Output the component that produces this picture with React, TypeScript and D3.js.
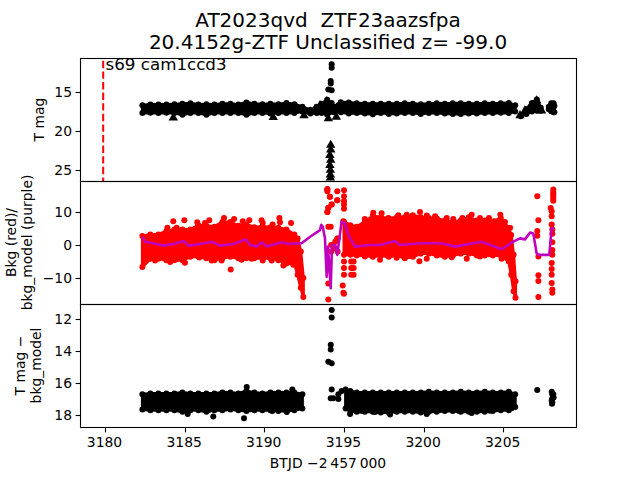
import React from "react";
import * as d3 from "d3";

const W = 640, H = 480;
const X0 = 80, X1 = 576;
const panels = [[58, 181], [181, 304], [304, 427]];

const xTicks = [3180, 3185, 3190, 3195, 3200, 3205];
const topTicks = [15, 20, 25];
const midTicks = [10, 0, -10];
const botTicks = [12, 14, 16, 18];

// Background flux (red) envelopes
const bkgDaysA = [3182.4,3182.9,3183.4,3183.9,3184.4,3184.9,3185.4,3185.9,3186.4,3186.9,3187.4,3187.9,3188.4,3188.9,3189.4,3189.9,3190.4,3190.9,3191.4,3191.9,3192.1,3192.3,3192.46];
const bkgHiA = [2.7,3.2,3.2,4.2,4.7,4.7,4.7,6,5.8,5.5,7,7,5.8,6.2,5.4,5.6,5.4,5.2,4.7,3.2,2,-2,-10];
const bkgLoA = [-6.7,-4.2,-4.2,-4.6,-4.6,-4.6,-3.6,-3.6,-4,-4.6,-4,-3.6,-4,-4,-4,-4,-4,-4.6,-5.6,-5.6,-9,-13,-15.8];
const bkgDaysB = [3195,3195.4,3195.8,3196.3,3196.8,3197.3,3197.8,3198.3,3198.8,3199.3,3199.8,3200.3,3200.8,3201.3,3201.8,3202.3,3202.8,3203.3,3203.8,3204.3,3204.8,3205.3,3205.45,3205.6,3205.72];
const bkgHiB = [7,6,5.5,7,8.8,8.4,8,8.4,8.4,9,8.4,8.2,8,7.4,7,7.4,8.4,7.4,7.4,7,8.2,5,3,-3,-11];
const bkgLoB = [-3,-3,-3.2,-3.2,-3.6,-3.2,-3.6,-3.2,-4,-3.6,-2.6,-2.6,-3.2,-3.6,-3.2,-2.6,-2.6,-3.2,-3.2,-3.2,-3.2,-5,-9,-14,-16];

// Red individual points
const redDays = [3184.33,3185.02,3186.58,3187.92,3189.85,3190.96,3191.69,
  3183.96,3184.54,3185.83,3186.31,3187.5,3188.13,3188.67,3189.08,3189.92,3190.54,3191,
  3183.19,3184.13,3185.06,3185.96,3186.73,3187.35,3188.6,3189.23,3189.92,3190.48,3191.21,3191.83,
  3196.3,3196.83,3197.35,3197.77,3198.4,3198.92,3199.75,3200.17,3200.69,3201.42,3201.83,3202.4,3202.98,3203.5,3204.06,3204.38,3204.77,3205.06,3205.38,
  3196.3,3197.25,3198.29,3199.71,3200.17,3202.67,3201.73,3203.5,3204.85,
  3193.96,3194.12,3194.58,3194.23,3194.02,3193.96,3194.02,3194.17,3194.02,3194.02,
  3193.96,3193.96,3194.12,3194.58,3195,3195,3194.58,3195,3195,3195,3194.23,3194.02,3193.96,3194.96,3194.92,3195,3194.96,3194.58,
  3194.2,3194.45,3194.6,3194.45,3194.6,3194.2,
  3195,3195,3195,3195.45,3195.45,3195.45,3195.6,3195.6,3195.6,
  3207.08,3207.15,3207.08,3207.08,3207.15,3207.15,3207.15,3207.15,
  3208.08,3208.08,3208.08,3208.08,3208.08,3208.08,3207.92,3207.98,3207.98,3207.98,3208.02,3208.02,3208.02,3208.02,3208.02,3207.98,3207.98,3207.98,3207.98,3208.02,3208.02,3208,3207.98];
const redVals = [7.2,7.5,7.5,-7.4,7.5,8.2,6.7,
  5.2,5.2,6.9,6.7,8.2,7.9,7.2,7.5,6.7,6.2,6.9,
  -4.7,-5.2,-5.4,-3.8,-4.7,-4.7,-4.5,-4.2,-4.7,-4.7,-6.2,-6,
  7.9,9.8,9.6,8.2,9,9.2,10,8.9,8.7,8.2,7.9,8.2,9.2,8.2,8.2,7.2,9.2,7,5.2,
  -3.5,-4.5,-3.9,-4.9,-4.2,-4.2,-3.7,-3.5,-4.2,
  16.8,14.6,13.6,12.3,11.3,10,5.5,5.5,-11.7,-16.5,
  17,16.3,14.6,16.3,16.6,14.8,13.6,13.3,12.3,11,12.3,11.3,10,7.2,-12.3,-14.8,-14.5,2,
  0,1,2,-1,-2,-2,
  -5,-7,-9,-5,-7,-9,-5,-7,-9,
  14.8,7.5,4.2,2.8,-3.5,-9.2,-10.9,-15.8,
  16.8,16,15.4,14.8,14,13.4,11.2,10.2,8.7,6.2,4.7,3.4,0.8,-1.5,-3,-5.5,-7.3,-9,-11.5,-13.5,-14.5];

// Background model (purple)
const modelDays = [3182.4,3182.56,3183.08,3183.71,3184.33,3185,3185.27,3186,3186.73,3187.25,3188.08,3188.85,3189.13,3189.54,3189.85,3190.17,3191.1,3191.52,3192.35,3192.88,3193.5,3193.58,3193.67,3193.81,3193.92,3194,3194.17,3194.25,3194.44,3194.58,3194.85,3195.06,3195.27,3195.69,3196.63,3197.25,3198.19,3198.5,3199.75,3201.1,3201.94,3203.6,3204.85,3205.58,3206,3206.31,3206.63,3206.83,3207.04,3207.15,3207.83,3207.98,3208.13];
const modelVals = [2.5,1,0.5,-0.2,0.3,1.2,-0.2,0.3,1,-0.2,0.3,1.7,0,-0.5,0.8,-0.5,0.8,0.3,0.5,2.5,4.5,6.1,5.6,2,-9.6,-0.5,-13.1,0,0,-3,7.1,6.6,3,-0.5,0,0,1.2,0,0.5,0.5,-0.5,1,-1.3,1,2,1.7,3.8,3.5,-2.5,-3,-3,5,5];

// Magnitude (black) envelopes, top panel
const magDays = [3182.4,3182.9,3183.4,3183.9,3184.4,3184.9,3185.4,3185.9,3186.4,3186.9,3187.4,3187.9,3188.4,3188.9,3189.4,3189.9,3190.4,3190.9,3191.4,3191.9,3192.4,3192.9,3193.3,3193.6,3193.95,3194.4,3194.8,3195.3,3195.8,3196.3,3196.8,3197.3,3197.8,3198.3,3198.8,3199.3,3199.8,3200.3,3200.8,3201.3,3201.8,3202.3,3202.8,3203.3,3203.8,3204.3,3204.8,3205.3,3205.7];
const magHi = [16.7,16.6,16.6,16.6,16.55,16.5,16.45,16.6,16.55,16.6,16.5,16.5,16.6,16.35,16.5,16.55,16.5,16.55,16.4,16.55,16.9,17.3,16.9,16.5,16,16.9,16.3,16.35,16.45,16.5,16.5,16.5,16.5,16.5,16.45,16.5,16.55,16.5,16.45,16.5,16.45,16.45,16.5,16.5,16.45,16.5,16.45,16.4,16.7];
const magLo = [17.7,17.65,17.7,17.65,17.7,17.9,17.7,17.7,17.9,17.7,17.7,17.7,17.7,17.9,17.7,17.7,17.75,17.7,17.7,17.7,17.5,17.75,17.7,17.7,17.9,17.6,17.6,17.75,17.7,17.75,17.85,17.7,17.8,17.75,17.7,17.7,17.8,17.7,17.7,17.75,17.8,17.8,17.75,17.75,17.7,17.7,17.65,17.7,17.5];
const rampDays = [3206.05,3206.4,3206.75,3207.05,3207.3];
const rampHi = [18,17.2,16.4,15.95,17];
const rampLo = [18.1,17.8,17.5,17.4,17.4];
const blobDays = [3207.8,3207.95,3208.1,3208.15];
const blobHi = [16.9,16.45,16.45,16.8];
const blobLo = [17.2,17.45,17.6,17.6];

// Magnitude (black) envelopes, bottom panel
const subDaysA = [3182.4,3182.9,3183.4,3183.9,3184.4,3184.9,3185.4,3185.9,3186.4,3186.9,3187.4,3187.9,3188.4,3188.9,3189.4,3189.9,3190.4,3190.9,3191.4,3191.9,3192.4];
const subHiA = [16.7,16.65,16.65,16.65,16.65,16.6,16.65,16.65,16.65,16.65,16.6,16.6,16.65,16.5,16.6,16.65,16.6,16.6,16.6,16.6,16.7];
const subLoA = [17.65,17.7,17.7,17.7,17.7,17.8,17.7,17.7,17.8,17.7,17.7,17.65,17.7,17.75,17.7,17.7,17.7,17.75,17.75,17.7,17.6];
const subDaysB = [3195.1,3195.4,3195.8,3196.3,3196.8,3197.3,3197.8,3198.3,3198.8,3199.3,3199.8,3200.3,3200.8,3201.3,3201.8,3202.3,3202.8,3203.3,3203.8,3204.3,3204.8,3205.3,3205.7];
const subHiB = [16.4,16.5,16.6,16.6,16.6,16.6,16.6,16.6,16.6,16.6,16.6,16.55,16.6,16.6,16.6,16.55,16.6,16.6,16.55,16.6,16.6,16.55,16.7];
const subLoB = [17.6,17.75,17.8,17.8,17.8,17.85,17.85,17.8,17.8,17.8,17.85,17.8,17.8,17.75,17.75,17.8,17.8,17.8,17.8,17.75,17.7,17.7,17.5];
const subEdgeDays = [3185.23,3186.83,3188.75,3190.52,3191.42,3188.92,3191.77,3195.38,3196.1,3196.94,3197.88,3200.17,3202.15,3202.98,3204.13,3205.48];
const subEdgeMags = [17.93,18.1,18.2,17.75,17.82,16.25,16.4,17.93,17.73,17.82,17.97,17.93,17.73,17.88,17.73,17.58];

// Points shared by the magnitude panels
const outDays = [3194.23,3194.23,3194.17,3194.17,3194.02,3194.23,3194.23,3194.17,3194.33,3194.65,3194.65,3194.85,3207.08,3207.98,3208.02,3208.06,3208,3207.98,3208.02,3208.08,3208.1,3208];
const outMags = [11.44,11.9,13.6,13.9,14.67,14.77,16.4,16.95,16.95,16.7,17,16.5,16.44,16.55,16.7,16.85,17,17.1,17.2,16.7,16.9,17.3];

// Upper limits (triangles), top panel
const limDays = [3184.33,3190.58,3192.5,3192.88,3193.19,3193.5,3193.92,3194.02,3194.33,3194.02,3194.52,3206,3206.31,3206.63,3207.04,3207.15,3207.35,
  3194.17,3194.17,3194.12,3194.17,3194.12,3194.15,3194.15,3194.15];
const limMags = [18.3,18.25,18,17.5,17.2,16.7,16.2,16.7,17.1,18.4,18.2,18,17.4,16.9,16.1,17,17.4,
  21.8,22.4,23.1,23.7,24.4,25,25.6,26];

const labelFont = "'DejaVu Sans', sans-serif";

function Dots({ days, vals, x, y, fill, r = 3 }: any) {
  return <g fill={fill}>{days.map((d: number, i: number) => <circle key={i} cx={x(d)} cy={y(vals[i])} r={r} />)}</g>;
}

function Band({ days, hi, lo, x, y, fill }: any) {
  const idx = days.map((_: number, i: number) => i);
  const area = d3.area<number>().x(i => x(days[i])).y0(i => y(lo[i])).y1(i => y(hi[i]));
  return (
    <g fill={fill}>
      <path d={area(idx) || ""} stroke={fill} strokeWidth={3} strokeLinejoin="round" />
      {idx.map((i: number) => <circle key={"h" + i} cx={x(days[i])} cy={y(hi[i])} r={3} />)}
      {idx.map((i: number) => <circle key={"l" + i} cx={x(days[i])} cy={y(lo[i])} r={3} />)}
    </g>
  );
}

function YAxis({ y, ticks, x0 }: any) {
  return (
    <g>
      {ticks.map((t: number) => (
        <g key={t}>
          <line x1={x0 - 4.4} x2={x0 + 0.5} y1={Math.round(y(t)) + 0.5} y2={Math.round(y(t)) + 0.5} stroke="#000" strokeWidth={1.1} />
          <text x={x0 - 8} y={y(t) + 5} textAnchor="end" fontSize={13.9} fontFamily={labelFont}>
            {String(t).replace("-", "\u2212")}
          </text>
        </g>
      ))}
    </g>
  );
}

export default function App() {
  const x = d3.scaleLinear().domain([3178.5, 3209.5]).range([X0, X1]);
  const xAxis = d3.scaleLinear().domain([3178.43, 3209.57]).range([X0, X1]);
  const yT = d3.scaleLinear().domain([10.64, 26.4]).range([panels[0][0], panels[0][1]]);
  const yM = d3.scaleLinear().domain([19.4, -17.9]).range([panels[1][0], panels[1][1]]);
  const yB = d3.scaleLinear().domain([11.06, 18.75]).range([panels[2][0], panels[2][1]]);
  const model = d3.line<number>().x(i => x(modelDays[i])).y(i => yM(modelVals[i]));
  const tri = d3.symbol().type(d3.symbolTriangle).size(38);

  return (
    <svg width={W} height={H} style={{ position: "absolute", left: 0, top: 0, background: "#fff" }} fontFamily={labelFont}>
      <defs>
        {panels.map((p, i) => (
          <clipPath id={"c" + i} key={i}><rect x={X0} y={p[0]} width={X1 - X0} height={p[1] - p[0]} /></clipPath>
        ))}
      </defs>

      <text x={328} y={27} textAnchor="middle" fontSize={20}>AT2023qvd{"\u00a0\u00a0"}ZTF23aazsfpa</text>
      <text x={328} y={49} textAnchor="middle" fontSize={20}>20.4152g-ZTF Unclassified z= -99.0</text>

      <g clipPath="url(#c0)">
        <line x1={x(3179.95)} x2={x(3179.95)} y1={yT(11)} y2={yT(26.4)} stroke="#f00" strokeWidth={2} strokeDasharray="7.4 3.2" />
        <Band days={magDays} hi={magHi} lo={magLo} x={x} y={yT} fill="#000" />
        <Band days={rampDays} hi={rampHi} lo={rampLo} x={x} y={yT} fill="#000" />
        <Band days={blobDays} hi={blobHi} lo={blobLo} x={x} y={yT} fill="#000" />
        <Dots days={outDays} vals={outMags} x={x} y={yT} fill="#000" />
        <g fill="#000">
          {limDays.map((d, i) => <path key={i} d={tri() || ""} transform={`translate(${x(d)},${yT(limMags[i])})`} />)}
        </g>
      </g>

      <g clipPath="url(#c1)">
        <Band days={bkgDaysA} hi={bkgHiA} lo={bkgLoA} x={x} y={yM} fill="#f00" />
        <Band days={bkgDaysB} hi={bkgHiB} lo={bkgLoB} x={x} y={yM} fill="#f00" />
        <Dots days={redDays} vals={redVals} x={x} y={yM} fill="#f00" />
        <path d={model(modelDays.map((_, i) => i)) || ""} fill="none" stroke="#bf00bf" strokeWidth={2.6} strokeLinejoin="round" />
      </g>

      <g clipPath="url(#c2)">
        <Band days={subDaysA} hi={subHiA} lo={subLoA} x={x} y={yB} fill="#000" />
        <Band days={subDaysB} hi={subHiB} lo={subLoB} x={x} y={yB} fill="#000" />
        <Dots days={subEdgeDays} vals={subEdgeMags} x={x} y={yB} fill="#000" />
        <Dots days={outDays} vals={outMags} x={x} y={yB} fill="#000" />
      </g>

      <text x={105.5} y={70} fontSize={16.7}>s69 cam1ccd3</text>

      {panels.map((p, i) => (
        <rect key={i} x={X0 + 0.5} y={p[0] + 0.5} width={X1 - X0} height={p[1] - p[0]} fill="none" stroke="#000" strokeWidth={1.1} />
      ))}

      <YAxis y={yT} ticks={topTicks} x0={X0} />
      <YAxis y={yM} ticks={midTicks} x0={X0} />
      <YAxis y={yB} ticks={botTicks} x0={X0} />

      {xTicks.map(t => (
        <g key={t}>
          <line x1={Math.round(xAxis(t)) + 0.5} x2={Math.round(xAxis(t)) + 0.5} y1={427.5} y2={432.4} stroke="#000" strokeWidth={1.1} />
          <text x={xAxis(t) - 0.5} y={447} textAnchor="middle" fontSize={13.9}>{t}</text>
        </g>
      ))}
      <text x={328} y={468} textAnchor="middle" fontSize={13.9}>BTJD {"\u2212"}2{"\u2009"}457{"\u2009"}000</text>

      <text transform="translate(44,119.5) rotate(-90)" textAnchor="middle" fontSize={13.9}>T mag</text>
      <text transform="translate(16,242.5) rotate(-90)" textAnchor="middle" fontSize={13.9}>Bkg (red)/</text>
      <text transform="translate(32,242.5) rotate(-90)" textAnchor="middle" fontSize={13.9}>bkg_model (purple)</text>
      <text transform="translate(25,365.5) rotate(-90)" textAnchor="middle" fontSize={13.9}>T mag {"\u2212"}</text>
      <text transform="translate(41,365.5) rotate(-90)" textAnchor="middle" fontSize={13.9}>bkg_model</text>
    </svg>
  );
}
